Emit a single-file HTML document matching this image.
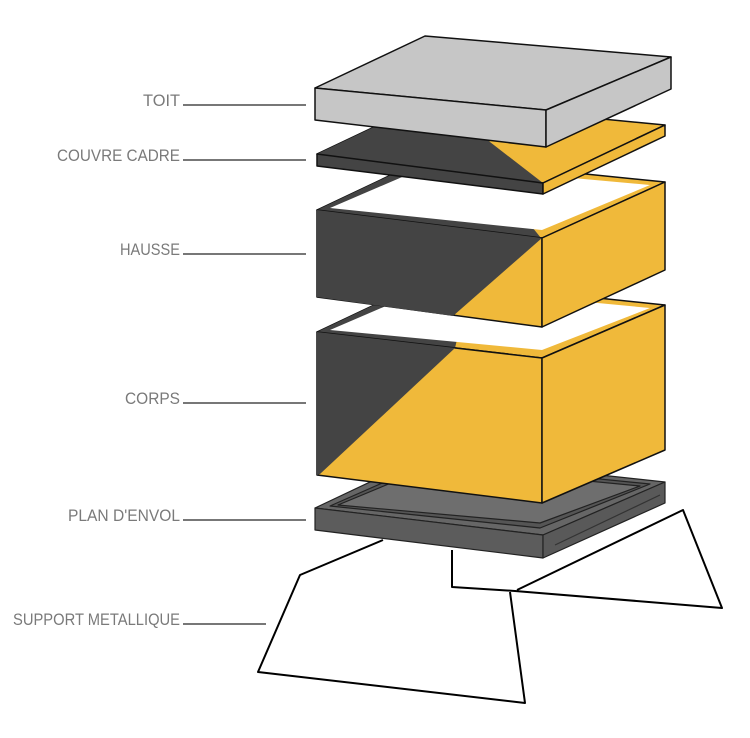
<!DOCTYPE html>
<html><head><meta charset="utf-8"><style>html,body{margin:0;padding:0;background:#fff}svg{display:block}</style></head>
<body>
<svg width="750" height="738" viewBox="0 0 750 738" xmlns="http://www.w3.org/2000/svg">
<g font-family="Liberation Sans, sans-serif" font-size="17" fill="#7a7a7a" text-anchor="end">
<text x="180" y="106" textLength="37" lengthAdjust="spacingAndGlyphs">TOIT</text>
<text x="180" y="161" textLength="123" lengthAdjust="spacingAndGlyphs">COUVRE CADRE</text>
<text x="180" y="255" textLength="60" lengthAdjust="spacingAndGlyphs">HAUSSE</text>
<text x="180" y="404" textLength="55" lengthAdjust="spacingAndGlyphs">CORPS</text>
<text x="180" y="521" textLength="112" lengthAdjust="spacingAndGlyphs">PLAN D'ENVOL</text>
<text x="180" y="625" textLength="167" lengthAdjust="spacingAndGlyphs">SUPPORT METALLIQUE</text>
</g>
<g stroke="#777" stroke-width="2">
<line x1="183" y1="105" x2="306" y2="105"/>
<line x1="183" y1="160" x2="306" y2="160"/>
<line x1="183" y1="254" x2="306" y2="254"/>
<line x1="183" y1="403" x2="306" y2="403"/>
<line x1="183" y1="520" x2="306" y2="520"/>
<line x1="183" y1="624" x2="266" y2="624"/>
</g>
<g stroke="#000" stroke-width="2" fill="none" stroke-linejoin="round">
<!-- supports -->
<polyline points="452,550 452,587 515,591 722,608 683,510 517,590"/>
<polyline points="383,540 300,575 258,672 525,703 510,592"/>
</g>
<!-- plan d'envol -->
<g stroke="#222" stroke-width="1.2" stroke-linejoin="round">
<polygon points="315,508 425,456 665,482 543,535" fill="#666"/>
<polygon points="330,506 430,462 650,484 540,528" fill="#555"/>
<polygon points="338,505 432,466 640,486 540,523" fill="#6e6e6e"/>
<polygon points="315,508 543,535 543,558 315,530" fill="#5c5c5c"/>
<polygon points="543,535 665,482 665,503 543,558" fill="#595959"/>
<line x1="555" y1="545" x2="660" y2="495" stroke="#333"/>
</g>
<!-- corps -->
<g stroke="#111" stroke-width="1.5" stroke-linejoin="round">
<polygon points="317,332 427,280 665,305 542,358" fill="#f0b93a"/>
<polygon points="317,332 427,280 470,285 455,348" fill="#444" stroke="none"/>
<polygon points="330,330 430,287 650,308 542,350" fill="#fff" stroke="none"/>
<polygon points="317,332 542,358 542,503 317,475" fill="#f0b93a"/>
<polygon points="317,332 455,348 320,474 317,475" fill="#444" stroke="none"/>
<polygon points="542,358 665,305 665,450 542,503" fill="#f0b93a"/>
</g>
<!-- hausse -->
<g stroke="#111" stroke-width="1.5" stroke-linejoin="round">
<polygon points="317,210 427,158 665,182 542,238" fill="#f0b93a"/>
<polygon points="317,210 427,158 480,163 541,238" fill="#444" stroke="none"/>
<polygon points="330,208 430,165 650,185 542,230" fill="#fff" stroke="none"/>
<polygon points="317,210 542,238 542,327 317,297" fill="#f0b93a"/>
<polygon points="317,210 542,238 453,316 317,297" fill="#444" stroke="none"/>
<polygon points="542,238 665,182 665,270 542,327" fill="#f0b93a"/>
</g>
<!-- couvre cadre -->
<g stroke="#111" stroke-width="1.5" stroke-linejoin="round">
<polygon points="317,154 427,102 665,125 543,183" fill="#f0b93a"/>
<polygon points="317,154 427,102 460,105 490,142 543,183" fill="#444" stroke="none"/>
<polygon points="317,154 543,183 543,194 317,166" fill="#444"/>
<polygon points="543,183 665,125 665,136 543,194" fill="#f0b93a"/>
</g>
<!-- toit -->
<g stroke="#111" stroke-width="1.5" stroke-linejoin="round" fill="#c6c6c6">
<polygon points="315,88 425,36 671,57 546,110"/>
<polygon points="315,88 546,110 546,147 315,120"/>
<polygon points="546,110 671,57 671,89 546,147"/>
</g>
</svg>
</body></html>
